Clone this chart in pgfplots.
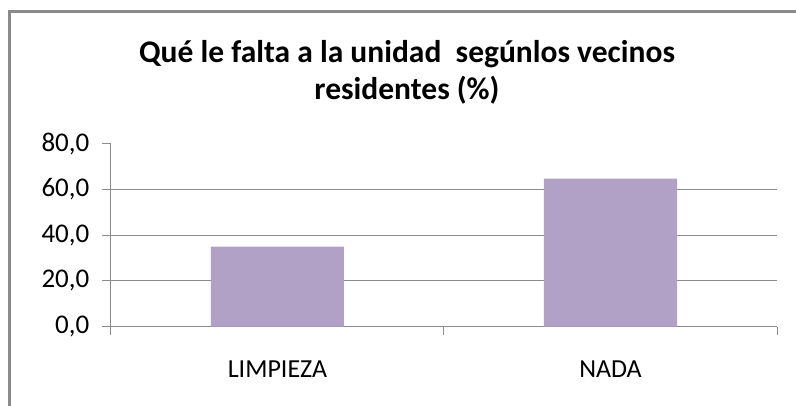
\documentclass[border=0pt]{standalone}
\usepackage{fontspec}
\setmainfont{Carlito}
\usepackage{pgfplots}
\pgfplotsset{compat=1.18}
\definecolor{barfill}{HTML}{B2A1C7}
\definecolor{linegray}{HTML}{8C8C8C}
\definecolor{framegray}{HTML}{8A8A8A}
\begin{document}
\begin{tikzpicture}
\begin{axis}[
  scale only axis, width=666pt, height=183pt,
  xmin=0, xmax=2, ymin=0, ymax=80,
  axis x line*=bottom, axis y line*=left,
  axis line style={linegray, line width=1pt},
  xtick={0,1,2}, xticklabels={},
  extra x ticks={0.5,1.5}, extra x tick labels={LIMPIEZA,NADA},
  extra x tick style={major tick length=0pt,
    xticklabel style={anchor=base, inner sep=0pt, yshift=-51pt}},
  ytick={0,20,40,60,80},
  extra y ticks={20,40,60}, extra y tick labels={},
  extra y tick style={grid=major, major tick length=0pt},
  tick align=outside, major tick length=8.5pt,
  tick style={linegray, line width=1pt},
  grid style={linegray, line width=1pt},
  yticklabel style={anchor=east, inner sep=0pt, xshift=-13pt,
    font=\fontsize{27}{32}\selectfont,
    /pgf/number format/.cd, fixed, fixed zerofill, precision=1, use comma, assume math mode=true},
  xticklabel style={font=\fontsize{26}{31}\selectfont},
  ybar, bar width=133pt,
]
\addplot[fill=barfill, draw=none] coordinates {(0.5,35.0) (1.5,64.7)};
\end{axis}
\node[anchor=base, inner sep=0pt, font=\bfseries\fontsize{31.5}{37}\selectfont] at (296pt,263.7pt) {Qué le falta a la unidad~ segúnlos vecinos};
\node[anchor=base, inner sep=0pt, font=\bfseries\fontsize{31.5}{37}\selectfont] at (296pt,226.7pt) {residentes (\%)};
\draw[framegray, line width=2.6pt] (-101.5pt,-120pt) -- (-101.5pt,315.4pt) -- (720pt,315.4pt);
\pgfresetboundingbox
\useasboundingbox (-111pt,-79.3pt) rectangle (685pt,326.7pt);
\end{tikzpicture}
\end{document}
